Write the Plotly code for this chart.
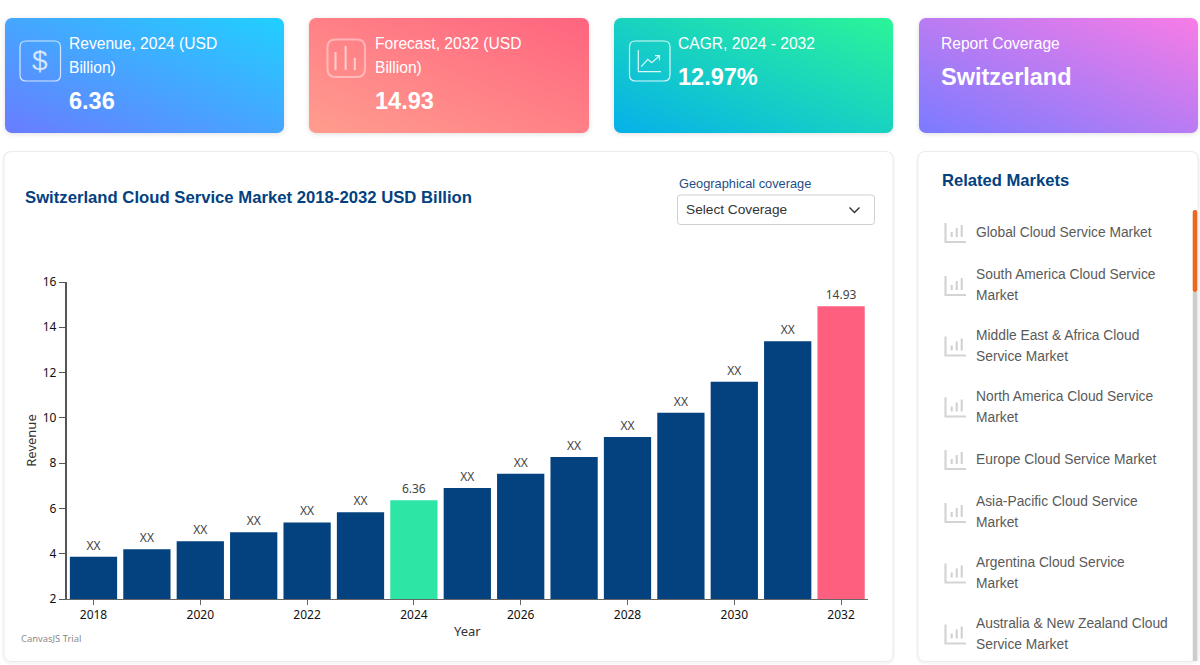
import base64
import plotly.graph_objects as go

W, H = 1200, 665

# ---- data ----
years = [2018, 2019, 2020, 2021, 2022, 2023, 2024, 2025, 2026, 2027, 2028, 2029, 2030, 2031, 2032]
revenue = [3.87, 4.2, 4.55, 4.95, 5.38, 5.83, 6.36, 6.9, 7.53, 8.27, 9.15, 10.23, 11.6, 13.38, 14.93]
bar_labels = ["XX", "XX", "XX", "XX", "XX", "XX", "6.36", "XX", "XX", "XX", "XX", "XX", "XX", "XX", "14.93"]
bar_colors = ["#03417f"] * 6 + ["#2de6a6"] + ["#03417f"] * 7 + ["#ff5f7e"]
x_ticks = [2018, 2020, 2022, 2024, 2026, 2028, 2030, 2032]
y_ticks = [2, 4, 6, 8, 10, 12, 14, 16]
related_markets = [
    ["Global Cloud Service Market"],
    ["South America Cloud Service", "Market"],
    ["Middle East & Africa Cloud", "Service Market"],
    ["North America Cloud Service", "Market"],
    ["Europe Cloud Service Market"],
    ["Asia-Pacific Cloud Service", "Market"],
    ["Argentina Cloud Service", "Market"],
    ["Australia & New Zealand Cloud", "Service Market"],
]
related_y = [232, 285, 345.5, 406.5, 459, 512, 572.5, 633.5]

# ---- helpers (pixel -> paper) ----
def px(x): return x / W
def py(y): return 1 - y / H
def pt(x, y): return f"{px(x):.5f} {py(y):.5f}"

def rrect(x0, y0, x1, y1, r):
    return (f"M {pt(x0 + r, y0)} L {pt(x1 - r, y0)} Q {pt(x1, y0)} {pt(x1, y0 + r)} "
            f"L {pt(x1, y1 - r)} Q {pt(x1, y1)} {pt(x1 - r, y1)} L {pt(x0 + r, y1)} "
            f"Q {pt(x0, y1)} {pt(x0, y1 - r)} L {pt(x0, y0 + r)} Q {pt(x0, y0)} {pt(x0 + r, y0)} Z")

def poly(points):
    return "M " + " L ".join(pt(x, y) for x, y in points)

shapes, images, annots = [], [], []

def add_path(d, line=None, fill="rgba(0,0,0,0)", width=1, layer="above"):
    shapes.append(dict(type="path", xref="paper", yref="paper", path=d, layer=layer,
                       fillcolor=fill, line=dict(color=line or "rgba(0,0,0,0)", width=width)))

def text(x, y, s, size=14, color="#444", bold=False, family="Liberation Sans", anchor="left", angle=0):
    # annotations carry about 2px of box padding; take it off so x is the glyph edge
    xx = x - 2 if anchor == "left" else x
    annots.append(dict(xref="paper", yref="paper", x=px(xx), y=py(y), text=f"<b>{s}</b>" if bold else s,
                       showarrow=False, xanchor=anchor, yanchor="middle", align="left", textangle=angle,
                       font=dict(size=size, color=color, family=family)))

def card(x0, y0, x1, y1, c0, c1):
    w, h = x1 - x0, y1 - y0
    m = 8
    svg = (f'<svg xmlns="http://www.w3.org/2000/svg" width="{w+2*m}" height="{h+2*m}">'
           f'<defs><linearGradient id="g" x1="0" y1="1" x2="1" y2="0">'
           f'<stop offset="0" stop-color="{c0}"/><stop offset="1" stop-color="{c1}"/></linearGradient>'
           f'<filter id="s" x="-10%" y="-10%" width="120%" height="120%"><feGaussianBlur stdDeviation="2.5"/></filter></defs>'
           f'<rect x="{m}" y="{m+1}" width="{w}" height="{h}" rx="7" fill="#000" fill-opacity="0.13" filter="url(#s)"/>'
           f'<rect x="{m}" y="{m}" width="{w}" height="{h}" rx="7" fill="url(#g)"/></svg>')
    uri = "data:image/svg+xml;base64," + base64.b64encode(svg.encode()).decode()
    images.append(dict(source=uri, xref="paper", yref="paper", x=px(x0 - m), y=py(y0 - m),
                       sizex=(w + 2 * m) / W, sizey=(h + 2 * m) / H, xanchor="left", yanchor="top",
                       sizing="stretch", layer="below"))

# ---- cards ----
card(5, 18, 284, 133, "#6a7cff", "#20d0ff")
card(309, 18, 589, 133, "#ff9d8e", "#ff647f")
card(614, 18, 893, 133, "#06b0ea", "#2bf597")
card(919, 18, 1198, 133, "#7a7bff", "#f87ce6")

# ---- white panels ----
for x0, x1 in ((4, 893), (918, 1198)):
    add_path(rrect(x0 - 0.5, 152.5, x1 + 0.5, 663, 8), line="rgba(0,0,0,0.03)", width=3, layer="below")
    add_path(rrect(x0, 151.5, x1, 661.5, 8), line="#ebebeb", fill="#ffffff", width=1, layer="below")

# ---- card text ----
LBL, VAL = 15.6, 23.5
text(69, 43.5, "Revenue, 2024 (USD", LBL, "#ffffff")
text(69, 67.5, "Billion)", LBL, "#ffffff")
text(68.5, 101, "6.36", VAL, "#ffffff", True)
text(375, 43.5, "Forecast, 2032 (USD", LBL, "#ffffff")
text(375, 67.5, "Billion)", LBL, "#ffffff")
text(375, 101, "14.93", VAL, "#ffffff", True)
text(678, 43.5, "CAGR, 2024 - 2032", LBL, "#ffffff")
text(678, 77.5, "12.97%", VAL, "#ffffff", True)
text(941, 43.5, "Report Coverage", LBL, "#ffffff")
text(941, 77.5, "Switzerland", VAL, "#ffffff", True)

# ---- card icons ----
W70 = "rgba(255,255,255,0.75)"
add_path(rrect(20, 41, 60.5, 81, 6), line=W70, width=1.2)
text(40.2, 61, "$", 28, W70, anchor="center")
P70 = "rgba(255,255,255,0.4)"
add_path(rrect(327.5, 39.5, 365, 77, 8), line=P70, width=2)
for x, y0 in ((335.5, 52), (345.6, 46), (354.8, 58)):
    add_path(poly([(x, y0), (x, 70)]), line="rgba(255,255,255,0.6)", width=2)
W85 = "rgba(255,255,255,0.85)"
add_path(rrect(629.5, 41, 670, 81, 6), line=W85, width=1.2)
add_path(poly([(638.3, 50), (638.3, 71.7), (661, 71.7)]), line=W85, width=1.2)
add_path(poly([(641.3, 66.7), (647.8, 59.3), (651.7, 62.7), (659.3, 56)]), line=W85, width=1.2)
add_path(poly([(655, 55.7), (659.5, 55.7), (659.5, 60.2)]), line=W85, width=1.2)

# ---- chart header ----
text(25, 197, "Switzerland Cloud Service Market 2018-2032 USD Billion", 16.7, "#03417f", True)
text(679, 183, "Geographical coverage", 12.8, "#1f4e86")
add_path(rrect(677.5, 195, 874.5, 224.5, 3), line="#cfcfcf", fill="#ffffff", width=1)
text(685.5, 209.5, "Select Coverage", 13.7, "#333333")
add_path(poly([(849.5, 207.5), (854.5, 212.5), (859.5, 207.5)]), line="#333333", width=1.4)
text(20.5, 638.5, "CanvasJS Trial", 9.4, "#8a8a8a", family="Noto Sans")

# ---- related markets ----
text(942, 180, "Related Markets", 16.6, "#03417f", True)
for lines, yc in zip(related_markets, related_y):
    if len(lines) == 1:
        text(975.5, yc, lines[0], 13.8, "#5a5a5a")
    else:
        text(975.5, yc - 10.5, lines[0], 13.8, "#5a5a5a")
        text(975.5, yc + 10.5, lines[1], 13.8, "#5a5a5a")
    add_path(poly([(945.5, yc - 9), (945.5, yc + 10), (966, yc + 10)]), line="#d4d4d4", width=2.2)
    for dx, top in ((951.7, 0), (956.7, -4), (961.7, -7)):
        add_path(poly([(dx, yc + 5), (dx, yc + top)]), line="#cfcfcf", width=2)
add_path(poly([(1195, 292), (1195, 661)]), line="#cdcdcd", width=4.5)
add_path(rrect(1192.7, 210, 1197.3, 292, 2), fill="#e8691f")

# ---- figure ----
fig = go.Figure(go.Bar(
    x=years, y=revenue, text=bar_labels, textposition="outside", cliponaxis=False,
    marker=dict(color=bar_colors, line=dict(width=0)), width=0.885,
    textfont=dict(size=12, color="#444444", family="Noto Sans"), hoverinfo="x+y",
))

tickfont = dict(size=12, color="#111111", family="Noto Sans")
fig.update_layout(
    width=W, height=H, margin=dict(l=0, r=0, t=0, b=0), autosize=False, showlegend=False,
    paper_bgcolor="#ffffff", plot_bgcolor="rgba(0,0,0,0)",
    shapes=shapes, images=images, annotations=annots,
    xaxis=dict(domain=[66.8 / W, 867.8 / W], range=[2017.5, 2032.5], tickvals=x_ticks, ticks="outside",
               ticklen=5, tickcolor="#666666", tickfont=tickfont, showgrid=False, zeroline=False,
               showline=True, linecolor="#666666", linewidth=1, automargin=False,
               title=dict(text="Year", font=dict(size=13, color="#333333", family="Noto Sans"), standoff=4)),
    yaxis=dict(domain=[1 - 599 / H, 1 - 282 / H], range=[2, 16], tickvals=y_ticks, ticks="outside",
               ticklen=6, tickcolor="#555555", tickfont=tickfont, showgrid=False, zeroline=False,
               showline=True, linecolor="#555555", linewidth=2, automargin=False,
               title=dict(text="Revenue", font=dict(size=13, color="#333333", family="Noto Sans"), standoff=3)),
    bargap=0.115,
)

fig.write_html("out.html", config=dict(displayModeBar=False),
               post_script="document.body.style.margin='0';document.body.style.overflow='hidden';")
